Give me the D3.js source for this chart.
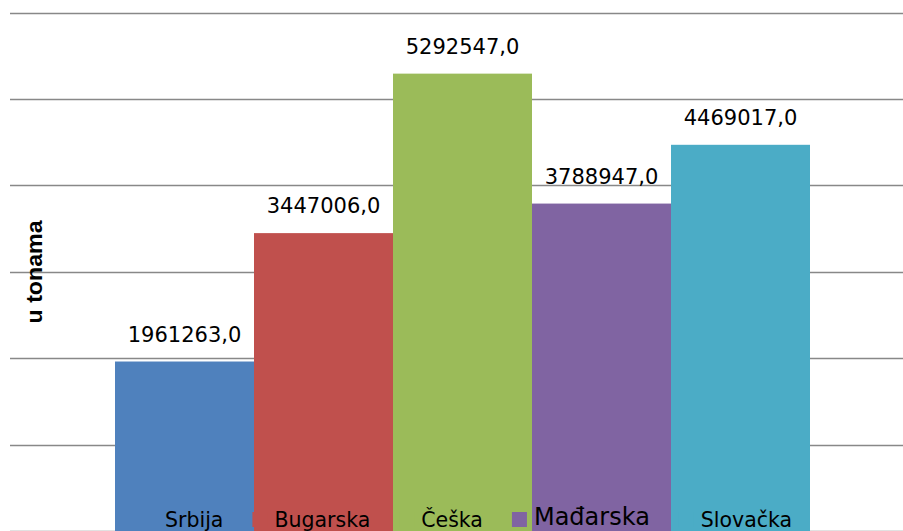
<!DOCTYPE html>
<html>
<head>
<meta charset="utf-8">
<script src="https://cdn.jsdelivr.net/npm/d3@7"></script>
<style>
	body { margin: 0; background: #fff; }
	svg { display: block; }
	.valueLabel { font-family: "DejaVu Sans", sans-serif; font-size: 21px; fill: #000; }
	.legendLabel { font-family: "DejaVu Sans", sans-serif; font-size: 20.5px; fill: #000; }
	.axisTitle { font-family: "Liberation Sans", Arial, sans-serif; font-size: 22px; font-weight: bold; fill: #000; }
</style>
</head>
<body>
<div id="chart"></div>
<script>
var countries = ["Srbija", "Bugarska", "Češka", "Mađarska", "Slovačka"];
var tonnes = [1961263.0, 3447006.0, 5292547.0, 3788947.0, 4469017.0];
var gridTicks = [0, 1000000, 2000000, 3000000, 4000000, 5000000, 6000000];
var axisTitle = "u tonama";

var barColors = ["#4F81BD", "#C0504D", "#9BBB59", "#8064A2", "#4BACC6"];

function formatValue(v){
	// 1961263,0 style
	return d3.format(".1f")(v).replace(".", ",");
}

function generateChart(){
	var width = 903, height = 531;
	var plot = {left: 10, right: 903, barLeft: 115, barRight: 810, top: 12.5, bottom: 531};

	var svg = d3.select("#chart").append("svg")
		.attr("width", width)
		.attr("height", height);

	var x = d3.scaleBand()
		.domain(countries)
		.range([plot.barLeft, plot.barRight])
		.padding(0);

	var y = d3.scaleLinear()
		.domain([0, 6000000])
		.range([plot.bottom, plot.top]);

	// gridlines
	svg.append("g")
		.selectAll("line")
		.data(gridTicks)
		.enter().append("line")
		.attr("x1", plot.left)
		.attr("x2", plot.right)
		.attr("y1", function(d){ return Math.round(y(d)) + 0.5; })
		.attr("y2", function(d){ return Math.round(y(d)) + 0.5; })
		.style("stroke", "#888888")
		.style("stroke-width", 1.6);

	// bars
	svg.append("g")
		.selectAll("rect")
		.data(tonnes)
		.enter().append("rect")
		.attr("x", function(d, i){ return x(countries[i]); })
		.attr("y", function(d){ return y(d); })
		.attr("width", x.bandwidth())
		.attr("height", function(d){ return y(0) - y(d); })
		.style("fill", function(d, i){ return barColors[i]; });

	// value labels
	svg.append("g")
		.selectAll("text")
		.data(tonnes)
		.enter().append("text")
		.attr("class", "valueLabel")
		.attr("x", function(d, i){ return x(countries[i]) + x.bandwidth() / 2; })
		.attr("y", function(d){ return y(d) - 20; })
		.attr("text-anchor", "middle")
		.text(function(d){ return formatValue(d); });

	// y axis title
	svg.append("text")
		.attr("class", "axisTitle")
		.attr("transform", "translate(42," + ((y(3000000) + y(2000000)) / 2 - 43) + ") rotate(-90)")
		.attr("text-anchor", "middle")
		.attr("textLength", 103)
		.attr("lengthAdjust", "spacingAndGlyphs")
		.text(axisTitle);

	// legend, laid over the bars
	var legend = svg.append("g");
	var cursor = 143;
	for(var i = 0; i < countries.length; i++){
		var big = countries[i] == "Mađarska";
		legend.append("rect")
			.attr("x", cursor)
			.attr("y", 512)
			.attr("width", 15)
			.attr("height", 15)
			.style("fill", barColors[i]);
		var label = legend.append("text")
			.attr("class", "legendLabel")
			.attr("x", cursor + 22)
			.attr("y", big ? 525 : 527)
			.style("font-size", big ? "24px" : null)
			.text(countries[i]);
		cursor = cursor + 22 + label.node().getComputedTextLength() + 29;
	}
}

generateChart();
</script>
</body>
</html>
